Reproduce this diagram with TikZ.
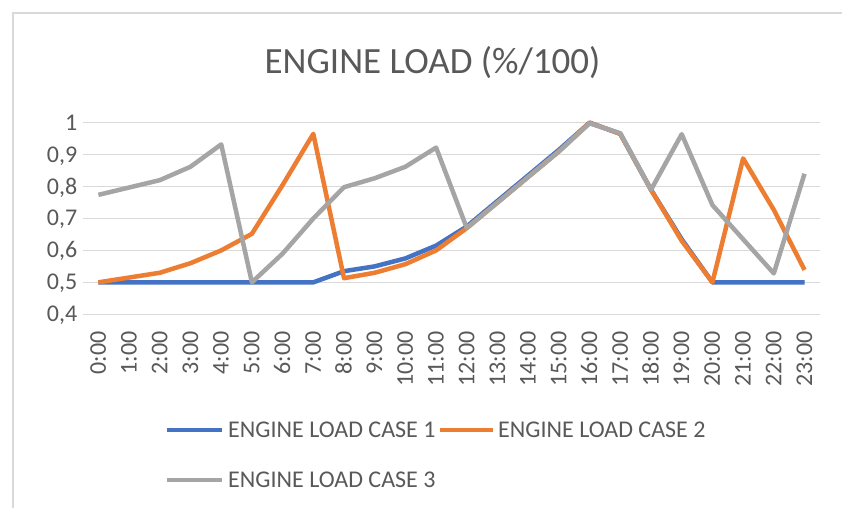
\documentclass[tikz,border=0pt]{standalone}
\usepackage{fontspec}
\setmainfont{Carlito}
\definecolor{txtgray}{HTML}{595959}
\definecolor{gridgray}{HTML}{D9D9D9}
\definecolor{caseone}{HTML}{4472C4}
\definecolor{casetwo}{HTML}{ED7D31}
\definecolor{casethree}{HTML}{A5A5A5}
\begin{document}
\begin{tikzpicture}[x=1pt,y=1pt,
    every node/.style={text=txtgray,inner sep=0pt},
    series/.style={line width=4.5pt,line join=round},
    ylab/.style={anchor=east,font=\fontsize{24}{24}\selectfont,text height=15pt,text depth=0pt},
    xlab/.style={anchor=east,rotate=90,font=\fontsize{24}{24}\selectfont,text height=15pt,text depth=0pt},
    legtext/.style={anchor=west,font=\fontsize{24}{24}\selectfont,text height=15.5pt,text depth=0pt}]
  \useasboundingbox (0,0) rectangle (842,508);
  \fill[white] (0,0) rectangle (842,508);
  % chart frame
  \draw[gridgray,line width=1.5pt] (13,0) -- (13,495) -- (842,495);
  % title
  \node[anchor=base,font=\fontsize{37}{37}\selectfont] (title) at (432.5,434) {ENGINE LOAD (\%/100)};
  \begin{scope}[shift={(98.4pt,66pt)},x=30.7pt,y=319.3pt]
    % grid
    \foreach \v in {0.4,0.5,...,1.01}
      \draw[gridgray,line width=1.5pt] (-0.5,\v) -- (23.5,\v);
    % axis labels
    \foreach \d in {4,...,9}
      \node[ylab] (y\d) at ([xshift=-21pt]0,0.\d) {0,\d};
    \node[ylab] (y10) at ([xshift=-21pt]0,1) {1};
    \foreach \h in {0,...,23}
      \node[xlab] (x\h) at ([yshift=-17pt]\h,0.4) {\h:00};
    % data
    \draw[series,caseone] plot coordinates {(0,0.5) (1,0.5) (2,0.5) (3,0.5) (4,0.5) (5,0.5) (6,0.5) (7,0.5)
      (8,0.535) (9,0.55) (10,0.575) (11,0.615) (12,0.675) (13,0.755) (14,0.835) (15,0.915)
      (16,1.0) (17,0.965) (18,0.79) (19,0.635) (20,0.5) (21,0.5) (22,0.5) (23,0.5)};
    \draw[series,casetwo] plot coordinates {(0,0.5) (1,0.515) (2,0.53) (3,0.56) (4,0.6) (5,0.652) (6,0.805) (7,0.965)
      (8,0.513) (9,0.53) (10,0.557) (11,0.6) (12,0.67) (13,0.75) (14,0.83) (15,0.91)
      (16,1.0) (17,0.965) (18,0.79) (19,0.63) (20,0.5) (21,0.888) (22,0.727) (23,0.539)};
    \draw[series,casethree] plot coordinates {(0,0.774) (1,0.797) (2,0.82) (3,0.862) (4,0.932) (5,0.5) (6,0.59) (7,0.7)
      (8,0.798) (9,0.826) (10,0.862) (11,0.922) (12,0.67) (13,0.75) (14,0.83) (15,0.91)
      (16,0.998) (17,0.967) (18,0.79) (19,0.964) (20,0.742) (21,0.635) (22,0.528) (23,0.84)};
  \end{scope}
  % legend
  \node[legtext] (leg1) at (228,78) {ENGINE LOAD CASE 1};
  \node[legtext] (leg2) at (498,78) {ENGINE LOAD CASE 2};
  \node[legtext] (leg3) at (228,28) {ENGINE LOAD CASE 3};
  \draw[series,caseone] ([xshift=-61pt]leg1.west) -- ([xshift=-6pt]leg1.west);
  \draw[series,casetwo] ([xshift=-58pt]leg2.west) -- ([xshift=-5pt]leg2.west);
  \draw[series,casethree] ([xshift=-61pt]leg3.west) -- ([xshift=-6pt]leg3.west);
\end{tikzpicture}
\end{document}
